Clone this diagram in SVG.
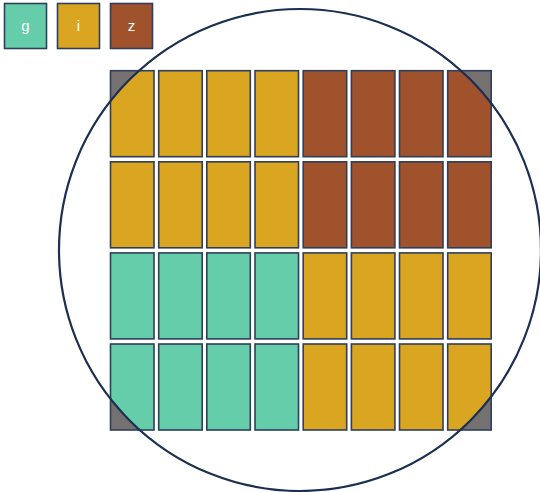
<svg xmlns="http://www.w3.org/2000/svg" width="540" height="492" viewBox="0 0 540 492">
<style>
.g{fill:#66CDAA}.i{fill:#DAA520}.z{fill:#A0522D}.gr{fill:#767171}
.c{stroke:#2E3F5C;stroke-width:1.6}
.o{fill:none;stroke:#2E3F5C;stroke-width:1.6}
.t{font-family:"Liberation Sans",Arial,sans-serif;font-size:15px;fill:#ffffff;text-anchor:middle}
</style>
<defs>
<clipPath id="wafer"><circle cx="300" cy="250" r="241"/></clipPath>
</defs>
<g id="legend-g"><rect class="g c" x="4.5" y="3.5" width="42" height="45"/><text class="t" x="25.5" y="31">g</text></g>
<g id="legend-i"><rect class="i c" x="57.5" y="3.5" width="42" height="45"/><text class="t" x="78.5" y="31">i</text></g>
<g id="legend-z"><rect class="z c" x="110.5" y="3.5" width="42" height="45"/><text class="t" x="131.5" y="31">z</text></g>
<g id="cells">
<g id="r0c0"><rect class="gr" x="110.5" y="70.7" width="43.5" height="86"/><rect class="i" clip-path="url(#wafer)" x="110.5" y="70.7" width="43.5" height="86"/><rect class="o" x="110.5" y="70.7" width="43.5" height="86"/></g>
<rect id="r0c1" class="i c" x="158.7" y="70.7" width="43.5" height="86"/>
<rect id="r0c2" class="i c" x="206.8" y="70.7" width="43.5" height="86"/>
<rect id="r0c3" class="i c" x="255.0" y="70.7" width="43.5" height="86"/>
<rect id="r0c4" class="z c" x="303.2" y="70.7" width="43.5" height="86"/>
<rect id="r0c5" class="z c" x="351.4" y="70.7" width="43.5" height="86"/>
<rect id="r0c6" class="z c" x="399.5" y="70.7" width="43.5" height="86"/>
<g id="r0c7"><rect class="gr" x="447.7" y="70.7" width="43.5" height="86"/><rect class="z" clip-path="url(#wafer)" x="447.7" y="70.7" width="43.5" height="86"/><rect class="o" x="447.7" y="70.7" width="43.5" height="86"/></g>

<rect id="r1c0" class="i c" x="110.5" y="161.8" width="43.5" height="86"/>
<rect id="r1c1" class="i c" x="158.7" y="161.8" width="43.5" height="86"/>
<rect id="r1c2" class="i c" x="206.8" y="161.8" width="43.5" height="86"/>
<rect id="r1c3" class="i c" x="255.0" y="161.8" width="43.5" height="86"/>
<rect id="r1c4" class="z c" x="303.2" y="161.8" width="43.5" height="86"/>
<rect id="r1c5" class="z c" x="351.4" y="161.8" width="43.5" height="86"/>
<rect id="r1c6" class="z c" x="399.5" y="161.8" width="43.5" height="86"/>
<rect id="r1c7" class="z c" x="447.7" y="161.8" width="43.5" height="86"/>

<rect id="r2c0" class="g c" x="110.5" y="252.9" width="43.5" height="86"/>
<rect id="r2c1" class="g c" x="158.7" y="252.9" width="43.5" height="86"/>
<rect id="r2c2" class="g c" x="206.8" y="252.9" width="43.5" height="86"/>
<rect id="r2c3" class="g c" x="255.0" y="252.9" width="43.5" height="86"/>
<rect id="r2c4" class="i c" x="303.2" y="252.9" width="43.5" height="86"/>
<rect id="r2c5" class="i c" x="351.4" y="252.9" width="43.5" height="86"/>
<rect id="r2c6" class="i c" x="399.5" y="252.9" width="43.5" height="86"/>
<rect id="r2c7" class="i c" x="447.7" y="252.9" width="43.5" height="86"/>

<g id="r3c0"><rect class="gr" x="110.5" y="344" width="43.5" height="86"/><rect class="g" clip-path="url(#wafer)" x="110.5" y="344" width="43.5" height="86"/><rect class="o" x="110.5" y="344" width="43.5" height="86"/></g>
<rect id="r3c1" class="g c" x="158.7" y="344" width="43.5" height="86"/>
<rect id="r3c2" class="g c" x="206.8" y="344" width="43.5" height="86"/>
<rect id="r3c3" class="g c" x="255.0" y="344" width="43.5" height="86"/>
<rect id="r3c4" class="i c" x="303.2" y="344" width="43.5" height="86"/>
<rect id="r3c5" class="i c" x="351.4" y="344" width="43.5" height="86"/>
<rect id="r3c6" class="i c" x="399.5" y="344" width="43.5" height="86"/>
<g id="r3c7"><rect class="gr" x="447.7" y="344" width="43.5" height="86"/><rect class="i" clip-path="url(#wafer)" x="447.7" y="344" width="43.5" height="86"/><rect class="o" x="447.7" y="344" width="43.5" height="86"/></g>
</g>
<g id="wafer-outline"><circle cx="300" cy="250" r="241" fill="none" stroke="#1B2F52" stroke-width="2.2"/></g>
</svg>
